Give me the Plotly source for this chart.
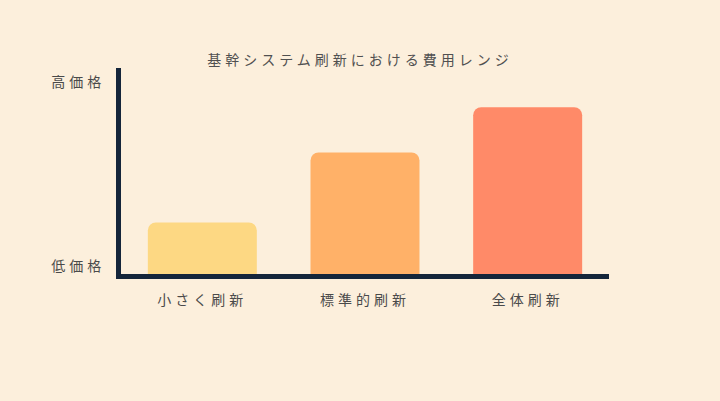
import plotly.graph_objects as go

# dati
categories = ['小さく刷新', '標準的刷新', '全体刷新']
cost_level = [25, 59, 81]
bar_colors = ['#FDD883', '#FFB168', '#FF8A68']
tick_vals = [4, 93]
tick_text = ['低価格', '高価格']
title_text = '基幹システム刷新における費用レンジ'

bg = '#FCEFDC'
axis_color = '#14253A'
font_family = 'Noto Sans CJK JP'

fig = go.Figure()

fig.add_trace(go.Bar(
    x=categories,
    y=cost_level,
    marker=dict(color=bar_colors, line=dict(width=0), cornerradius=8),
    width=0.67,
    hoverinfo='skip',
))

fig.update_layout(
    width=720,
    height=401,
    paper_bgcolor=bg,
    plot_bgcolor=bg,
    margin=dict(l=121, r=111, t=68, b=127),
    showlegend=False,
    font=dict(family=font_family, color='#4A4A4A', size=14),
    title=dict(
        text=title_text,
        x=0.5,
        xanchor='center',
        y=0.85,
        yanchor='middle',
        font=dict(family=font_family, size=14, color='#505050'),
    ),
)

fig.update_xaxes(
    showline=True,
    linewidth=5,
    linecolor=axis_color,
    showgrid=False,
    zeroline=False,
    ticks='',
    ticklabelstandoff=9,
    tickfont=dict(size=14, color='#4A4A4A'),
    range=[-0.5, 2.5],
)

fig.update_yaxes(
    showline=True,
    linewidth=5,
    linecolor=axis_color,
    showgrid=False,
    zeroline=False,
    ticks='',
    range=[0, 100],
    tickvals=tick_vals,
    ticktext=tick_text,
    ticklabelstandoff=8,
    tickfont=dict(size=14, color='#4A4A4A'),
)

# margine del body a zero e spaziatura tra i caratteri come nell'originale
post_js = """
document.body.style.margin = '0';
var gd = document.getElementById('{plot_id}');
gd.querySelectorAll('.gtitle, .xtick text, .ytick text').forEach(function (t) {
    t.style.letterSpacing = '4px';
});
"""

fig.write_html('out.html', post_script=post_js, config={'displayModeBar': False})
